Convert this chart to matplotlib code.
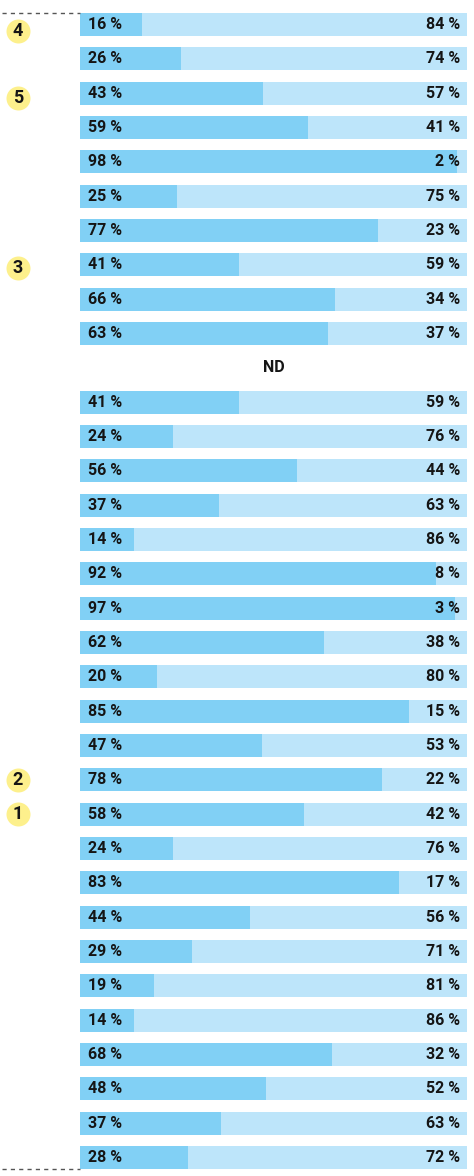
import matplotlib

matplotlib.use("Agg")
import matplotlib.pyplot as plt

plt.rcParams["font.family"] = ["Roboto", "DejaVu Sans"]

# printed share (%) of the darker segment; None marks the "ND" row
labels = [16, 26, 43, 59, 98, 25, 77, 41, 66, 63,
          None,
          41, 24, 56, 37, 14, 92, 97, 62, 20, 85, 47, 78,
          58, 24, 83, 44, 29, 19, 14, 68, 48, 37, 28]
# bar lengths as drawn (mostly equal to the labels, a few differ in the source)
bars = [16, 26, 47.3, 59, 97.5, 25, 77, 41, 66, 64,
        None,
        41, 24, 56, 36, 14, 92, 97, 63, 20, 85, 47, 78,
        58, 24, 82.5, 44, 29, 19, 14, 65.1, 48, 36.5, 28]
nd_label = "ND"

# numbered markers and the row each sits next to
badge_labels = ["4", "5", "3", "2", "1"]
badge_rows = [0.2, 2.15, 7.1, 22.0, 23.0]

DARK = "#81d0f5"
LIGHT = "#bde5fa"
TEXT = "#151515"
BADGE = "#fdf08c"

W, H, DPI = 474, 1176, 100
fig = plt.figure(figsize=(W / DPI, H / DPI), dpi=DPI)

left_px, right_px = 80, 467
pitch = 34.33
row0_px = 24.5
n = len(labels)
ax = fig.add_axes([left_px / W, 0, (right_px - left_px) / W, 1])
ax.set_xlim(0, 100)
top = -row0_px / pitch
bottom = (n - 1) + (H - (row0_px + (n - 1) * pitch)) / pitch
ax.set_ylim(bottom, top)
ax.axis("off")

bar_h = 23 / pitch
fs = 11.5
fw = "bold"
px_x = 100 / (right_px - left_px)

for i, (lab, v) in enumerate(zip(labels, bars)):
    if lab is None:
        ax.text(50, i, nd_label, ha="center", va="center", fontsize=fs,
                fontweight=fw, color=TEXT)
        continue
    ax.barh(i, v, height=bar_h, color=DARK, linewidth=0)
    ax.barh(i, 100 - v, left=v, height=bar_h, color=LIGHT, linewidth=0)
    ax.text(8 * px_x, i, f"{lab} %", ha="left", va="center", fontsize=fs,
            fontweight=fw, color=TEXT)
    ax.text(100 - 7 * px_x, i, f"{100 - lab} %", ha="right", va="center",
            fontsize=fs, fontweight=fw, color=TEXT)

# dashed brackets at the start and end of the list
x0 = (2 - left_px) * px_x
for y in (0 - bar_h / 2, (n - 1) + bar_h / 2):
    ax.plot([x0, 0], [y, y], color="#555555", lw=1, ls=(0, (3, 3)),
            clip_on=False)

# badges
bx = (18 - left_px) * px_x
for lab, r in zip(badge_labels, badge_rows):
    ax.plot(bx, r, "o", ms=24 * 72 / DPI, color=BADGE, mec="none",
            clip_on=False, zorder=1)
    ax.text(bx, r, lab, ha="center", va="center", fontsize=13,
            fontweight="bold", color=TEXT, zorder=2)

fig.savefig("out.png", dpi=DPI)
plt.close(fig)
